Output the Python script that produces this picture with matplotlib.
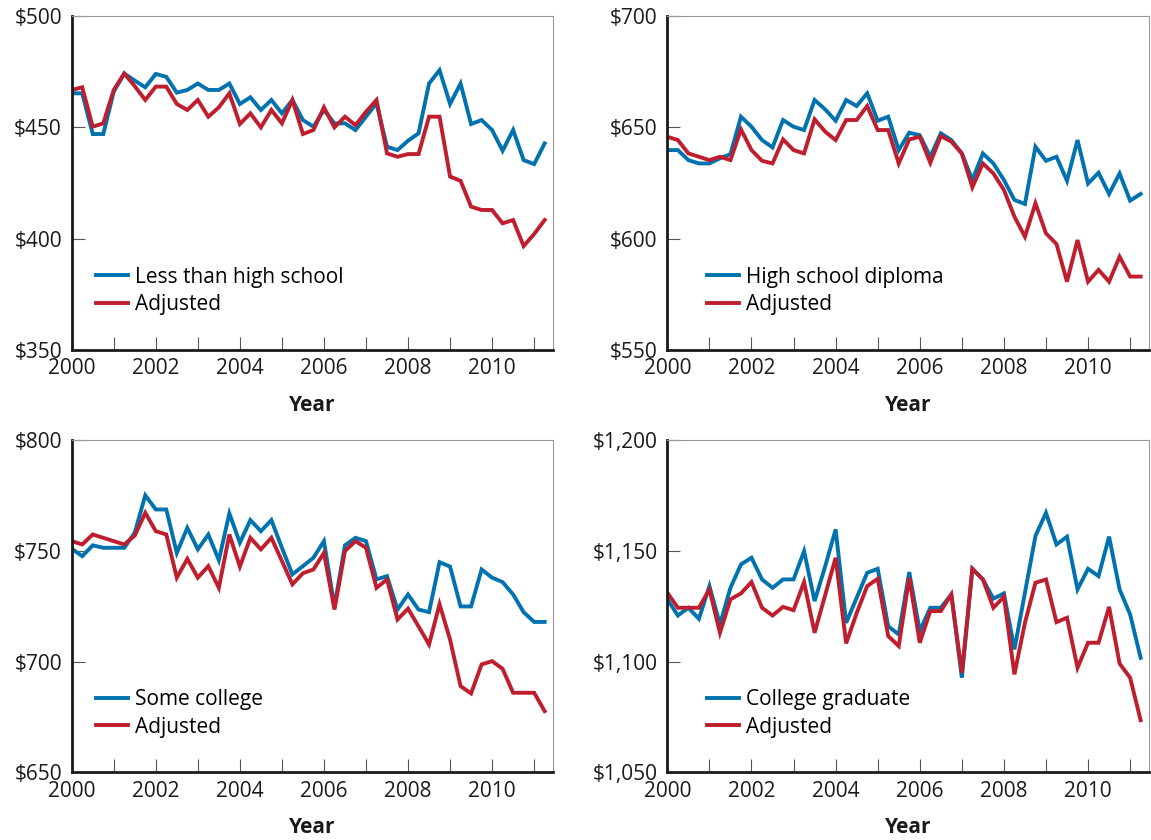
import matplotlib
matplotlib.use("Agg")
import matplotlib.pyplot as plt
from matplotlib.ticker import FuncFormatter, MultipleLocator
import numpy as np

plt.rcParams["font.family"] = ["Open Sans", "DejaVu Sans"]

# quarterly observations, 2000 Q1 - 2011 Q2
quarters = 2000 + np.arange(46) / 4

less_hs = [465.3, 465.3, 447, 447, 466, 474.2, 471, 468, 474, 472.7, 465.6, 466.8,
           469.7, 466.8, 466.8, 469.7, 460.5, 463.5, 457.8, 462.3, 456.3, 462.3,
           453.3, 450.3, 457.8, 451.8, 451.8, 448.8, 454.8, 460.8, 441.3, 439.8,
           444, 447.3, 469.7, 475.7, 460.5, 469.7, 451.5, 453.3, 448.8, 439.5,
           448.8, 435.3, 433.5, 442.8]
less_hs_adj = [466.8, 468, 450.3, 451.8, 466.8, 474.2, 468.5, 462.3, 468.3, 468.3,
               460.5, 457.8, 462.3, 454.8, 459, 465.3, 451.5, 456.3, 450, 457.8,
               451.8, 462.3, 447, 448.8, 459, 450, 454.8, 451, 457, 462.3, 438.3,
               436.8, 438, 438, 454.8, 454.8, 427.9, 426, 414.4, 412.9, 412.9,
               406.9, 408.4, 396.7, 402.1, 408.4]

hs_diploma = [639.8, 639.8, 635.3, 633.8, 633.8, 636.1, 638, 654.8, 650.3, 644.3,
              641, 653.3, 650.3, 648.8, 662.3, 658.1, 653, 662.3, 659.6, 665.3,
              653, 654.8, 639.8, 647.6, 646.5, 636.8, 647.3, 644.3, 638.3, 626.4,
              638.3, 633.8, 626.4, 617.4, 615.6, 641.3, 635, 636.8, 626, 644.3,
              624.8, 629.6, 620.1, 629.3, 617.1, 620.1]
hs_diploma_adj = [645.8, 644.3, 638.3, 636.8, 635.3, 636.8, 635.3, 649.1, 639.8, 635,
                  633.8, 644.6, 639.8, 638.3, 653.6, 648.1, 644.3, 653.3, 653.3,
                  659.6, 648.8, 648.8, 633.8, 644.6, 645.8, 634.1, 646.1, 643.6,
                  638.3, 623.1, 633.8, 629.3, 621.9, 609.9, 600.9, 615.9, 602.4,
                  597.6, 580.7, 599.4, 580.7, 586, 580.7, 591.9, 583, 583]

some_college = [751.1, 747.7, 752.6, 751.5, 751.5, 751.5, 758.3, 775.2, 768.8, 768.8,
                749.2, 760.5, 750.8, 757.5, 745.9, 767, 753.8, 764, 759, 764, 751.5,
                739.5, 743.2, 747, 754.5, 725, 752.6, 756, 754.5, 737.2, 738.7,
                723.6, 730.4, 723.6, 722.4, 745, 743, 725, 725, 741.7, 738, 736,
                730.4, 722.4, 718, 718]
some_college_adj = [754.5, 753, 757.5, 756, 754.5, 753, 757, 767.3, 759, 757.5, 738,
                    746.5, 738, 743.2, 733.4, 757.5, 743, 756, 750.8, 756, 745.5,
                    735, 740, 741.7, 749.2, 723.6, 750, 754.5, 751.5, 733.4, 737.2,
                    719.1, 724, 716, 707.8, 726, 710, 689, 685.7, 698.8, 700.3,
                    696.8, 686, 686, 686, 677.7]

college_grad = [1128.2, 1120.9, 1124.4, 1119.4, 1134.2, 1116.9, 1133.4, 1144, 1147,
                1137.2, 1133.4, 1137.2, 1137.2, 1150, 1127.4, 1143, 1159.8, 1117.6,
                1128.9, 1140.2, 1142, 1116.1, 1112.3, 1140.5, 1113.9, 1124.4, 1124.4,
                1130.4, 1092.8, 1142, 1137.2, 1128.5, 1130.9, 1105.6, 1131.2, 1156.8,
                1167.3, 1153, 1156.5, 1132.7, 1142, 1138.7, 1156.5, 1132.7, 1121.4,
                1101.8]
college_grad_adj = [1131.2, 1124.4, 1124.4, 1124.4, 1132.7, 1113.1, 1128.2, 1130.9,
                    1136, 1124.4, 1120.9, 1124.8, 1123.3, 1136, 1113.1, 1130, 1147,
                    1108.3, 1122, 1134.2, 1137.5, 1111.6, 1107.1, 1138, 1108.6,
                    1122.9, 1122.9, 1130.4, 1095, 1142, 1137.2, 1124.4, 1129.4,
                    1094.3, 1117.6, 1135.7, 1137.2, 1117.9, 1119.9, 1097.3, 1108.6,
                    1108.6, 1124.8, 1099.2, 1092.8, 1073.6]

labels = ["Less than high school", "High school diploma", "Some college", "College graduate"]
raw = [less_hs, hs_diploma, some_college, college_grad]
adjusted = [less_hs_adj, hs_diploma_adj, some_college_adj, college_grad_adj]
y_ranges = [(350, 500), (550, 700), (650, 800), (1050, 1200)]

BLUE = "#0072B0"
RED = "#BE1E2D"

fig = plt.figure(figsize=(11.51, 8.40), dpi=100)
positions = [
    [0.0623, 0.5833, 0.4182, 0.3976],
    [0.5798, 0.5833, 0.4185, 0.3976],
    [0.0623, 0.0804, 0.4182, 0.3953],
    [0.5798, 0.0804, 0.4185, 0.3953],
]
legend_x = [0.05, 0.082, 0.05, 0.082]

for i in range(4):
    ax = fig.add_axes(positions[i])
    ax.plot(quarters, raw[i], color=BLUE, lw=2.8, label=labels[i], solid_joinstyle="miter")
    ax.plot(quarters, adjusted[i], color=RED, lw=2.8, label="Adjusted", solid_joinstyle="miter")

    ax.set_xlim(2000, 2011.45)
    ax.set_ylim(*y_ranges[i])
    ax.xaxis.set_major_locator(MultipleLocator(2))
    ax.xaxis.set_minor_locator(MultipleLocator(1))
    ax.yaxis.set_major_locator(MultipleLocator(50))
    ax.yaxis.set_major_formatter(FuncFormatter(lambda v, p: f"${v:,.0f}"))

    ax.tick_params(axis="both", which="both", direction="in", length=9.5,
                   width=0.8, color="#555555", labelsize=15, labelcolor="#1a1a1a")
    ax.tick_params(axis="x", which="major", pad=6)
    ax.tick_params(axis="y", which="major", pad=7)

    for side in ["left", "bottom"]:
        ax.spines[side].set_linewidth(2.0)
        ax.spines[side].set_color("#1a1a1a")
    for side in ["top", "right"]:
        ax.spines[side].set_linewidth(0.8)
        ax.spines[side].set_color("#999999")

    ax.set_xlabel("Year", fontsize=15, fontweight="bold", color="#1a1a1a", labelpad=11)

    ax.legend(loc="lower left", bbox_to_anchor=(legend_x[i], 0.105), frameon=False,
              fontsize=15, handlelength=1.55, handletextpad=0.35, labelspacing=0.3,
              borderaxespad=0, borderpad=0)

plt.savefig("out.png", dpi=100)
